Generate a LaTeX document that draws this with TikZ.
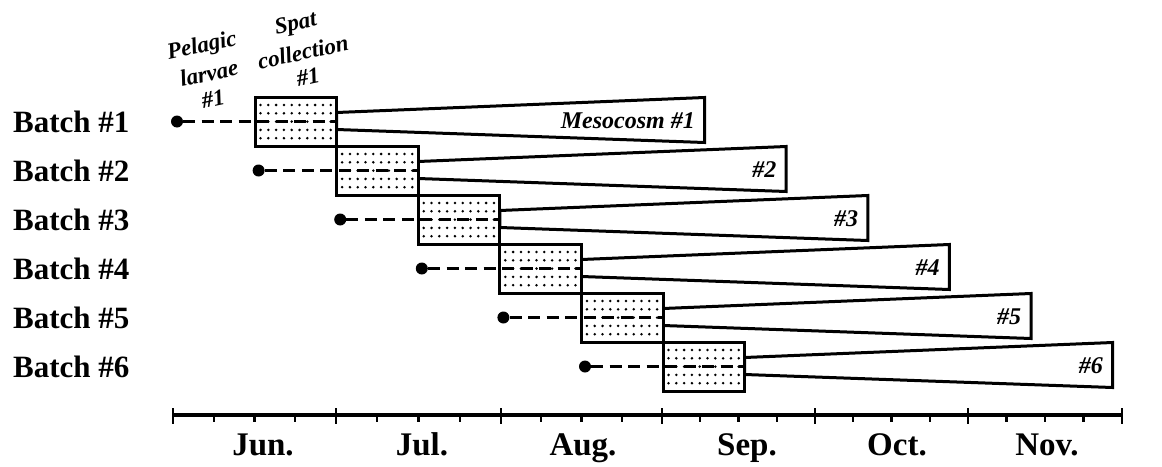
\documentclass[tikz,border=0pt]{standalone}
\usepackage{fontspec}
\setmainfont{Liberation Serif}
\usetikzlibrary{calc}
\begin{document}
\begin{tikzpicture}[x=1pt,y=-1pt,line join=miter,
  batch/.style={font=\fontsize{31}{31}\selectfont\bfseries,anchor=base west,inner sep=0pt},
  month/.style={font=\fontsize{33}{33}\selectfont\bfseries,anchor=base,inner sep=0pt},
  tag/.style={font=\fontsize{24}{24}\selectfont\bfseries\itshape,anchor=east,inner sep=0pt},
  head/.style={font=\fontsize{23}{26}\selectfont\bfseries\itshape,rotate=12,inner sep=0pt},
  spatbox/.style={rectangle,draw,line width=3pt,fill=white,minimum width=81.6pt,minimum height=49pt,inner sep=0pt,outer sep=0pt},
  larva/.style={circle,fill=black,minimum size=12pt,inner sep=0pt},
  track/.style={line width=3pt,dash pattern=on 12pt off 6.5pt},
  wedge/.style={line width=3pt,fill=white},
  axisline/.style={line width=3.2pt},
  majortick/.style={line width=2.8pt},
  minortick/.style={line width=2.2pt}]
\useasboundingbox[fill=white] (0,0) rectangle (1162,466);

% column headings, one rotated line each
\node[head] (pelagic1) at (202,47) {Pelagic};
\node[head] (pelagic2) at (209,73) {larvae};
\node[head] (pelagic3) at (213,99) {\#1};
\node[head] (spat1) at (296,25) {Spat};
\node[head] (spat2) at (303,52) {collection};
\node[head] (spat3) at (308,77) {\#1};

% one row per batch: larvae dot, spat box, mesocosm wedge
\foreach \k in {1,...,6}{
  \pgfmathsetmacro\cy{121.5+49*(\k-1)}
  \pgfmathsetmacro\bx{255+81.6*(\k-1)}
  \draw[wedge] (\bx+81.6,\cy-9) -- (\bx+449.6,\cy-24) -- (\bx+449.6,\cy+21) -- (\bx+81.6,\cy+8) -- cycle;
  \ifnum\k=1
    \node[tag] (tag\k) at (\bx+440,\cy-1) {Mesocosm \#1};
  \else
    \node[tag] (tag\k) at (\bx+440,\cy-1) {\#\k};
  \fi
  \node[spatbox] (box\k) at (\bx+40.8,\cy) {};
  \foreach \i in {0,...,9}{
    \foreach \j in {0,...,4}{
      \fill (\bx+5.5+7.8*\i,\cy-16.5+8.3*\j) circle (1.4pt);
    }
  }
  \node[larva] (dot\k) at (\bx-78,\cy) {};
  \draw[track] (dot\k) -- (box\k.east);
  \node[batch] (batch\k) at (13,132+49*\k-49) {Batch \#\k};
}

% time axis
\draw[axisline] (173,415) -- (1122,415);
\foreach \m in {173,336,501,662,815,968,1122}
  \draw[majortick] (\m,408) -- (\m,424);
\foreach \a/\b in {173/336,336/501,501/662,662/815,815/968,968/1122}
  \foreach \q in {1,2,3}
    \draw[minortick] ({\a+(\b-\a)*\q/4},415) -- ++(0,7);

\node[month] (jun) at (263,455) {Jun.};
\node[month] (jul) at (422,455) {Jul.};
\node[month] (aug) at (583,455) {Aug.};
\node[month] (sep) at (747,455) {Sep.};
\node[month] (oct) at (897,455) {Oct.};
\node[month] (nov) at (1047,455) {Nov.};
\end{tikzpicture}
\end{document}
